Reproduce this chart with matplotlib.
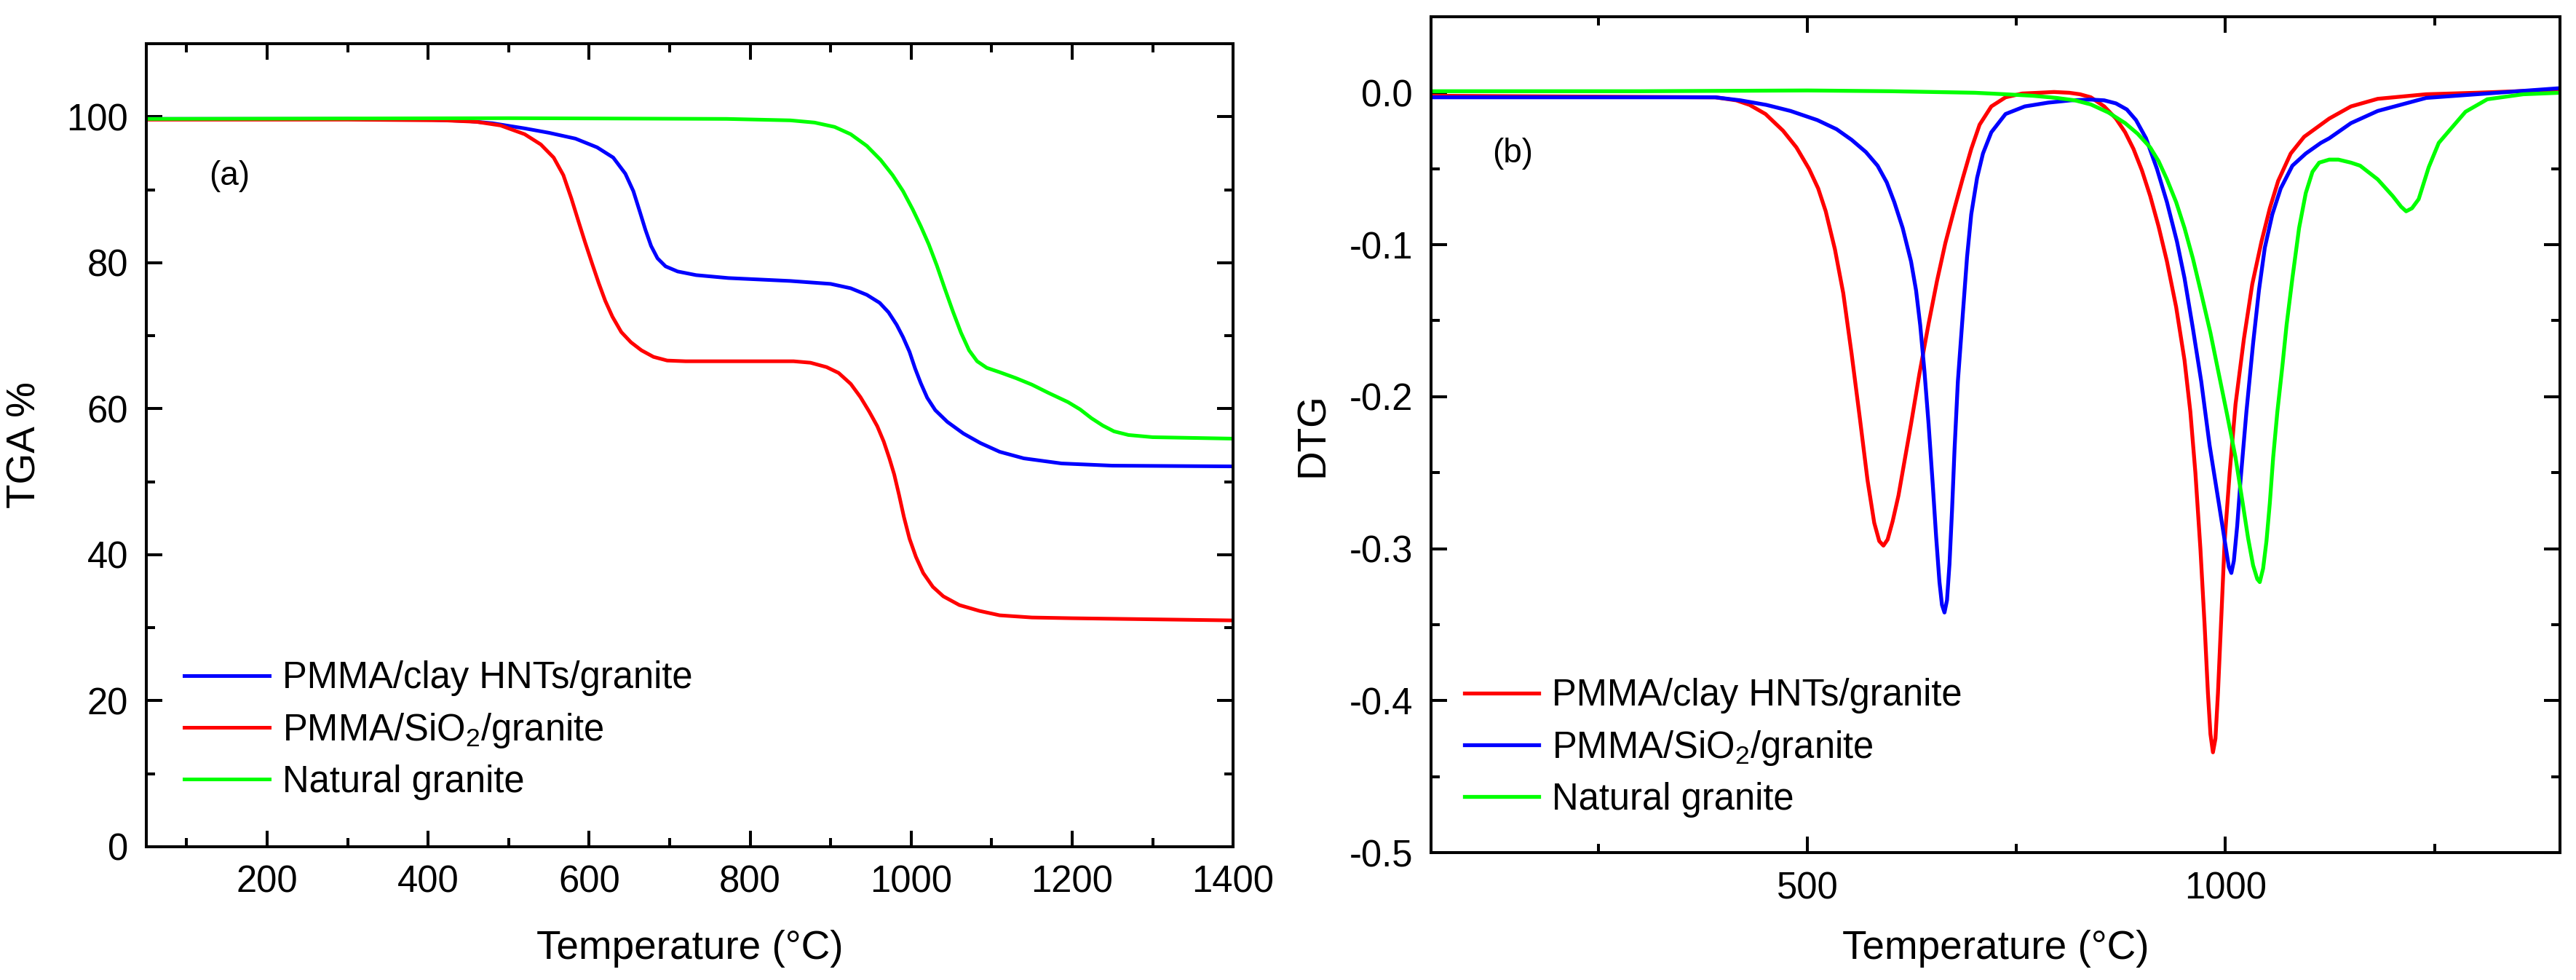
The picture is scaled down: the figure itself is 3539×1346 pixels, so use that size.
import numpy as np
import matplotlib
matplotlib.use("Agg")
import matplotlib.pyplot as plt
from matplotlib.ticker import MultipleLocator, FuncFormatter

plt.rcParams['font.family'] = ['Liberation Sans', 'DejaVu Sans']
plt.rcParams['mathtext.fontset'] = 'custom'
plt.rcParams['mathtext.rm'] = 'Liberation Sans'

BLUE = '#0000ff'
RED = '#ff0000'
GREEN = '#00ff00'

# ---- TGA data (a) ----
tga_clay_T = [50, 300, 400, 450, 480, 520, 550, 583, 610, 630, 645, 655, 663, 670, 677, 685, 695,
              710, 733, 773, 850, 900, 925, 945, 961, 972, 982, 990, 998, 1005, 1012, 1020, 1030,
              1045, 1065, 1086, 1110, 1140, 1187, 1250, 1400]
tga_clay_v = [99.7, 99.7, 99.6, 99.4, 99.1, 98.4, 97.8, 97.0, 95.8, 94.4, 92.2, 89.8, 87.0, 84.5,
              82.3, 80.6, 79.5, 78.8, 78.3, 77.9, 77.5, 77.1, 76.5, 75.6, 74.5, 73.2, 71.5, 69.8,
              67.8, 65.5, 63.5, 61.5, 59.8, 58.2, 56.6, 55.3, 54.1, 53.2, 52.5, 52.2, 52.1]

tga_sio2_T = [50, 300, 420, 460, 490, 520, 540, 556, 568, 578, 587, 595, 604, 612, 620, 629, 640,
              652, 665, 680, 697, 720, 854, 875, 895, 910, 925, 937, 948, 958, 966, 973, 979,
              985, 991, 998, 1006, 1015, 1027, 1040, 1060, 1085, 1110, 1150, 1200, 1400]
tga_sio2_v = [99.6, 99.6, 99.5, 99.3, 98.8, 97.6, 96.2, 94.4, 92.0, 88.8, 85.6, 82.8, 79.8, 77.2,
              74.8, 72.6, 70.5, 69.1, 68.0, 67.1, 66.6, 66.5, 66.5, 66.3, 65.7, 64.9, 63.4, 61.6,
              59.6, 57.6, 55.5, 53.2, 51.0, 48.2, 45.2, 42.2, 39.7, 37.5, 35.6, 34.3, 33.1, 32.3,
              31.7, 31.4, 31.3, 31.0]

tga_gran_T = [50, 500, 771, 850, 880, 905, 925, 945, 962, 977, 990, 1002, 1012, 1022, 1032, 1042,
              1052, 1062, 1072, 1082, 1094, 1110, 1130, 1150, 1170, 1195, 1210, 1224, 1238,
              1252, 1270, 1300, 1400]
tga_gran_v = [99.7, 99.8, 99.7, 99.5, 99.2, 98.6, 97.6, 96.0, 94.1, 92.0, 89.8, 87.3, 85.0, 82.5,
              79.6, 76.4, 73.3, 70.4, 68.0, 66.5, 65.6, 65.0, 64.2, 63.3, 62.2, 60.9, 59.9, 58.7,
              57.7, 56.9, 56.4, 56.1, 55.9]

# ---- DTG data (b) ----
dtg_clay_T = [50, 390, 415, 431, 450, 471, 487, 502, 513, 522, 533, 543, 553, 563, 572, 580, 586,
              591, 596, 602, 609, 616, 624, 634, 645, 655, 665, 676, 686, 696, 706, 720, 737,
              757, 777, 795, 813, 826, 839, 855, 869, 880, 890, 900, 910, 920, 930, 941, 951,
              958, 964, 970, 975, 979, 982, 985, 988, 991, 995, 999, 1005, 1012, 1022, 1032,
              1043, 1053, 1063, 1078, 1094, 1124, 1150, 1182, 1240, 1300, 1350, 1400]
dtg_clay_v = [-0.002, -0.003, -0.005, -0.008, -0.014, -0.025, -0.036, -0.050, -0.063, -0.078,
              -0.103, -0.132, -0.172, -0.215, -0.255, -0.283, -0.295, -0.298, -0.294, -0.282,
              -0.265, -0.243, -0.218, -0.185, -0.152, -0.124, -0.099, -0.076, -0.056, -0.037,
              -0.021, -0.009, -0.003, -0.0005, 0.000, 0.0005, 0.000, -0.001, -0.003, -0.009,
              -0.017, -0.026, -0.037, -0.051, -0.068, -0.088, -0.111, -0.141, -0.176, -0.210,
              -0.250, -0.300, -0.350, -0.395, -0.422, -0.434, -0.425, -0.395, -0.345, -0.295,
              -0.250, -0.205, -0.162, -0.126, -0.098, -0.076, -0.058, -0.040, -0.029, -0.017,
              -0.009, -0.004, -0.001, 0.000, 0.001, 0.002]

dtg_sio2_T = [50, 390, 420, 451, 480, 512, 535, 553, 570, 584, 595, 604, 614, 624, 630, 635, 640,
              645, 650, 654, 658, 661, 664, 667, 670, 673, 676, 680, 686, 691, 696, 703, 710,
              720, 737, 760, 788, 815, 839, 855, 869, 882, 893, 905, 918, 930, 942, 951, 961,
              971, 981, 992, 1000, 1004, 1007, 1010, 1014, 1018, 1025, 1033, 1040, 1047, 1056,
              1066, 1080, 1096, 1114, 1124, 1150, 1182, 1240, 1300, 1350, 1400]
dtg_sio2_v = [-0.003, -0.003, -0.005, -0.008, -0.012, -0.018, -0.024, -0.031, -0.039, -0.048,
              -0.059, -0.072, -0.089, -0.111, -0.130, -0.153, -0.183, -0.218, -0.258, -0.292,
              -0.322, -0.337, -0.342, -0.334, -0.310, -0.275, -0.235, -0.190, -0.145, -0.108,
              -0.080, -0.056, -0.040, -0.026, -0.014, -0.009, -0.0065, -0.005, -0.0045, -0.005,
              -0.007, -0.011, -0.018, -0.030, -0.050, -0.072, -0.098, -0.122, -0.155, -0.190,
              -0.232, -0.270, -0.298, -0.312, -0.316, -0.308, -0.285, -0.255, -0.210, -0.165,
              -0.130, -0.102, -0.080, -0.063, -0.048, -0.040, -0.033, -0.030, -0.020, -0.012,
              -0.0034, -0.001, 0.001, 0.003]

dtg_gran_T = [50, 300, 500, 600, 700, 737, 770, 798, 820, 839, 860, 880, 895, 910, 920, 930, 941,
              951, 961, 971, 982, 992, 1002, 1012, 1020, 1027, 1033, 1038, 1041, 1045, 1049,
              1053, 1057, 1062, 1068, 1073, 1080, 1088, 1096, 1104, 1112, 1124, 1135, 1150,
              1161, 1182, 1200, 1210, 1216, 1223, 1231, 1243, 1255, 1269, 1287, 1313, 1356, 1400]
dtg_gran_v = [0.001, 0.001, 0.0015, 0.001, 0.000, -0.001, -0.002, -0.0034, -0.005, -0.0077,
              -0.013, -0.020, -0.027, -0.036, -0.045, -0.057, -0.072, -0.089, -0.109, -0.132,
              -0.158, -0.185, -0.212, -0.240, -0.268, -0.293, -0.311, -0.320, -0.322, -0.313,
              -0.295, -0.270, -0.240, -0.210, -0.180, -0.153, -0.122, -0.089, -0.066, -0.052,
              -0.046, -0.044, -0.044, -0.046, -0.048, -0.057, -0.068, -0.075, -0.078, -0.076,
              -0.070, -0.049, -0.033, -0.024, -0.0125, -0.0043, -0.001, 0.000]

fig = plt.figure(figsize=(35.39, 13.46), dpi=100)
ax1 = fig.add_axes([0.0568, 0.136, 0.4219, 0.8194])
ax2 = fig.add_axes([0.5555, 0.130, 0.4383, 0.8529])

TICK_FS = 36.5
LABEL_FS = 39.5
LEG_FS = 36.5


def style_axes(ax):
    for s in ax.spines.values():
        s.set_linewidth(2.9)
    ax.tick_params(which='both', direction='in', top=True, right=True, width=2.9,
                   labelsize=TICK_FS)
    ax.tick_params(which='major', length=16)
    ax.tick_params(which='minor', length=8.5)
    ax.tick_params(axis='x', pad=18)
    ax.tick_params(axis='y', pad=18)


# (a) TGA
ax1.plot(tga_clay_T, tga_clay_v, color=BLUE, lw=3.6, label='PMMA/clay HNTs/granite')
ax1.plot(tga_sio2_T, tga_sio2_v, color=RED, lw=3.6, label=r'PMMA/SiO$_2$/granite')
ax1.plot(tga_gran_T, tga_gran_v, color=GREEN, lw=3.6, label='Natural granite')
ax1.set_xlim(50, 1400)
ax1.set_ylim(0, 110)
ax1.xaxis.set_major_locator(MultipleLocator(200))
ax1.xaxis.set_minor_locator(MultipleLocator(100))
ax1.yaxis.set_major_locator(MultipleLocator(20))
ax1.yaxis.set_minor_locator(MultipleLocator(10))
style_axes(ax1)
ax1.set_xlabel('Temperature (°C)', fontsize=LABEL_FS, labelpad=29)
ax1.set_ylabel('TGA %', fontsize=LABEL_FS, labelpad=22)
ax1.text(153, 91.9, '(a)', fontsize=33, ha='center', va='center')
ax1.legend(loc='lower left', bbox_to_anchor=(0.035, 0.058), frameon=False, fontsize=LEG_FS,
           handlelength=2.3, handletextpad=0.35, borderpad=0, borderaxespad=0,
           labelspacing=0.4)

# (b) DTG
ax2.plot(dtg_clay_T, dtg_clay_v, color=RED, lw=3.8, label='PMMA/clay HNTs/granite')
ax2.plot(dtg_sio2_T, dtg_sio2_v, color=BLUE, lw=3.8, label=r'PMMA/SiO$_2$/granite')
ax2.plot(dtg_gran_T, dtg_gran_v, color=GREEN, lw=3.8, label='Natural granite')
ax2.set_xlim(50, 1400)
ax2.set_ylim(-0.5, 0.05)
ax2.xaxis.set_major_locator(MultipleLocator(500))
ax2.xaxis.set_minor_locator(MultipleLocator(250))
ax2.yaxis.set_major_locator(MultipleLocator(0.1))
ax2.yaxis.set_minor_locator(MultipleLocator(0.05))
ax2.yaxis.set_major_formatter(FuncFormatter(lambda v, p: f'{v:.1f}'))
style_axes(ax2)
ax2.set_xlabel('Temperature (°C)', fontsize=LABEL_FS, labelpad=23)
ax2.set_ylabel('DTG', fontsize=LABEL_FS, labelpad=17)
ax2.text(148, -0.040, '(b)', fontsize=33, ha='center', va='center')
ax2.legend(loc='lower left', bbox_to_anchor=(0.03, 0.042), frameon=False, fontsize=LEG_FS,
           handlelength=2.0, handletextpad=0.35, borderpad=0, borderaxespad=0,
           labelspacing=0.4)

fig.savefig('out.png', dpi=100)
